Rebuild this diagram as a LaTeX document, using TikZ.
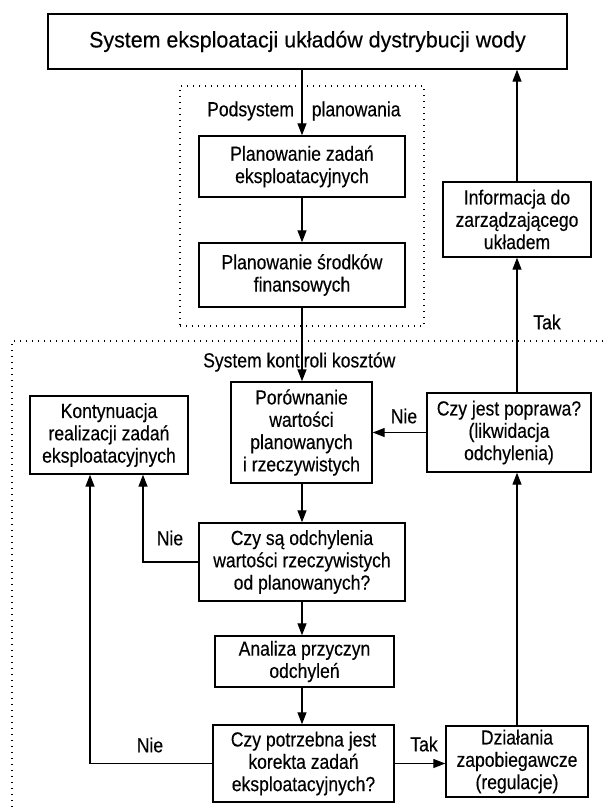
\documentclass[tikz,border=0pt]{standalone}
\usepackage{fontspec}
\setmainfont{Liberation Sans}
\newfontfamily\bodyfont[FakeStretch=0.86,FakeBold=0.3]{Liberation Sans}
\newfontfamily\headfont[FakeStretch=0.96,FakeBold=0.3]{Liberation Sans}
\usetikzlibrary{arrows.meta}
\begin{document}
\begin{tikzpicture}[x=1pt,y=-1pt,
  box/.style={draw, line width=1.4pt, align=center, inner sep=0pt, font=\bodyfont\fontsize{20.4}{22.3}\selectfont},
  arr/.style={line width=1.3pt, -{Triangle[length=12pt,width=9pt]}},
  lbl/.style={font=\bodyfont\fontsize{20.4}{22}\selectfont, inner sep=0pt},
  dots/.style={line width=1.4pt, dash pattern=on 1.4pt off 4.6pt}]
\useasboundingbox (0,0) rectangle (603,812);

% groups
\node[dots, draw, minimum width=244pt, minimum height=240pt, inner sep=0pt] (plangroup) at (302,206) {};
\draw[dots] (603,341) -- (12,341) -- (12,812);

% boxes
\node[box, minimum width=519pt, minimum height=55pt, font=\headfont\fontsize{22.3}{26}\selectfont] (title) at (307.5,41.5) {System eksploatacji układów dystrybucji wody};
\node[box, minimum width=206pt, minimum height=61pt] (plan1) at (302,166.5) {Planowanie zadań\\eksploatacyjnych};
\node[box, minimum width=206pt, minimum height=64pt] (plan2) at (302,275) {Planowanie środków\\finansowych};
\node[box, minimum width=148pt, minimum height=75pt] (info) at (517,219.5) {Informacja do\\zarządzającego\\układem};
\node[box, minimum width=141pt, minimum height=101pt] (compare) at (301.5,432.5) {Porównanie\\wartości\\planowanych\\i rzeczywistych};
\node[box, minimum width=158pt, minimum height=78pt] (kont) at (109,435) {Kontynuacja\\realizacji zadań\\eksploatacyjnych};
\node[box, minimum width=164pt, minimum height=79pt] (poprawa) at (509,432.5) {Czy jest poprawa?\\(likwidacja\\odchylenia)};
\node[box, minimum width=206pt, minimum height=78pt] (odch) at (302,562) {Czy są odchylenia\\wartości rzeczywistych\\od planowanych?};
\node[box, minimum width=179pt, minimum height=51pt] (analiza) at (304.5,661.5) {Analiza przyczyn\\odchyleń};
\node[box, minimum width=181pt, minimum height=77pt] (korekta) at (303.5,763.5) {Czy potrzebna jest\\korekta zadań\\eksploatacyjnych?};
\node[box, minimum width=142pt, minimum height=71pt] (dzial) at (517,761.5) {Działania\\zapobiegawcze\\(regulacje)};

% group labels
\node[lbl, anchor=west] (podsys) at (207,111) {Podsystem\hspace{13pt} planowania};
\node[lbl, anchor=west] (skk) at (203,362) {System kont\hspace{4pt}roli kosztów};

% connectors
\draw[arr] (plan1.north |- title.south) -- (plan1.north);
\draw[arr] (plan1.south) -- (plan2.north);
\draw[arr] (plan2.south) -- (plan2.south |- compare.north);
\draw[arr] (compare.south -| odch.north) -- (odch.north);
\draw[arr] (odch.south) -- (odch.south |- analiza.north);
\draw[arr] (analiza.south -| odch.south) -- (korekta.north -| odch.south);
\draw[arr] (info.north) -- (info.north |- title.south);
\draw[arr] (info.south |- poprawa.north) -- (info.south);
\draw[arr] (dzial.north) -- (dzial.north |- poprawa.south);
\draw[arr] (poprawa.west) -- (poprawa.west -| compare.east);
\draw[arr] (odch.west) -| ([xshift=34pt]kont.south);
\draw[arr] (korekta.west) -| ([xshift=-19pt]kont.south);
\draw[arr] (korekta.east) -- (korekta.east -| dzial.west);

% connector labels
\node[lbl] (tak1) at (547,322) {Tak};
\node[lbl] (nie1) at (404,416) {Nie};
\node[lbl] (nie2) at (170,538) {Nie};
\node[lbl] (nie3) at (150,745) {Nie};
\node[lbl] (tak2) at (424,744) {Tak};
\end{tikzpicture}
\end{document}
